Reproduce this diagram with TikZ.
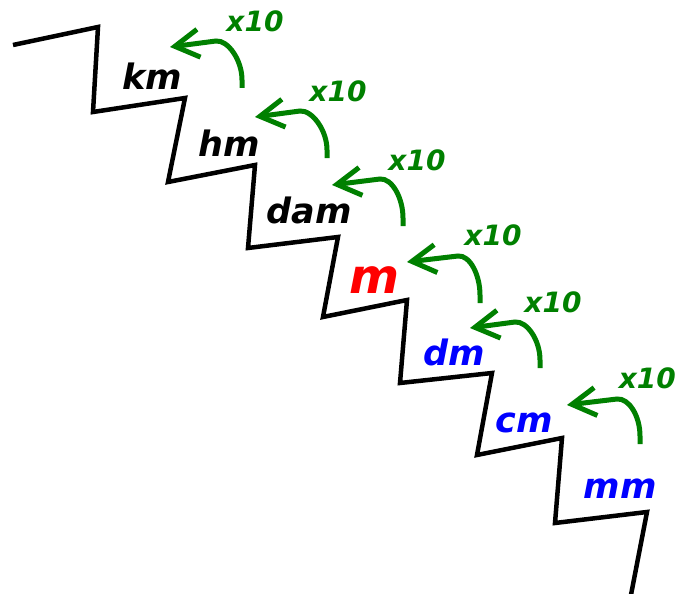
\documentclass[tikz,border=0pt]{standalone}
\usepackage{fontspec}
\setmainfont{DejaVu Sans}
\usetikzlibrary{arrows.meta,calc}
\definecolor{stepgreen}{RGB}{0,128,0}
\tikzset{
  stair/.style={line width=4.5pt, line join=miter, black},
  unitlbl/.style={anchor=base, inner sep=0pt, font=\fontsize{35}{40}\selectfont\bfseries\itshape},
  factorlbl/.style={anchor=base, inner sep=0pt, text=stepgreen, font=\fontsize{28}{32}\selectfont\bfseries\itshape},
  mularrow/.style={line width=5pt, stepgreen, -{Straight Barb[length=24pt,width=28pt]}}
}
\begin{document}
\begin{tikzpicture}[x=1pt,y=-1pt]
\clip (0,0) rectangle (678,594);
\fill[white] (0,0) rectangle (678,594);
% staircase
\draw[stair] (13,45) -- (98,27) -- (93,112) -- (185,98) -- (168,182) -- (255,165)
  -- (248,248) -- (338,237) -- (323,317) -- (407,300) -- (400,383) -- (492,373)
  -- (477,455) -- (562,438) -- (555,523) -- (647,512) -- (630,600);
% unit labels
\node[unitlbl] (km)  at (152,90)  {km};
\node[unitlbl] (hm)  at (229,157) {hm};
\node[unitlbl] (dam) at (309,223) {dam};
\node[unitlbl, text=red, font=\fontsize{48}{56}\selectfont\bfseries\itshape] (m) at (375,293) {m};
\node[unitlbl, text=blue] (dm) at (454,365) {dm};
\node[unitlbl, text=blue] (cm) at (524,432) {cm};
\node[unitlbl, text=blue] (mm) at (620,498) {mm};
% arrow coordinates
\coordinate (s1) at (242,88);  \coordinate (t1) at (216,41);  \coordinate (e1) at (170,47);
\coordinate (s2) at (327,158); \coordinate (t2) at (300,111); \coordinate (e2) at (255,117);
\coordinate (s3) at (403,226); \coordinate (t3) at (380,179); \coordinate (e3) at (332,185);
\coordinate (s4) at (480,303); \coordinate (t4) at (458,256); \coordinate (e4) at (407,262);
\coordinate (s5) at (540,368); \coordinate (t5) at (515,322); \coordinate (e5) at (470,328);
\coordinate (s6) at (640,444); \coordinate (t6) at (617,399); \coordinate (e6) at (567,405);
\foreach \i in {1,...,6}{
  \draw[mularrow] (s\i) -- ++(0,-8) .. controls ($(s\i)+(0,-28)$) and ($(t\i)+(12,-1)$) .. (t\i) -- (e\i);
}
% factor labels
\node[factorlbl] (f1) at (255,32)  {x10};
\node[factorlbl] (f2) at (338,102) {x10};
\node[factorlbl] (f3) at (417,170) {x10};
\node[factorlbl] (f4) at (493,245) {x10};
\node[factorlbl] (f5) at (553,312) {x10};
\node[factorlbl, anchor=base east] (f6) at (676,388) {x10};
\end{tikzpicture}
\end{document}
